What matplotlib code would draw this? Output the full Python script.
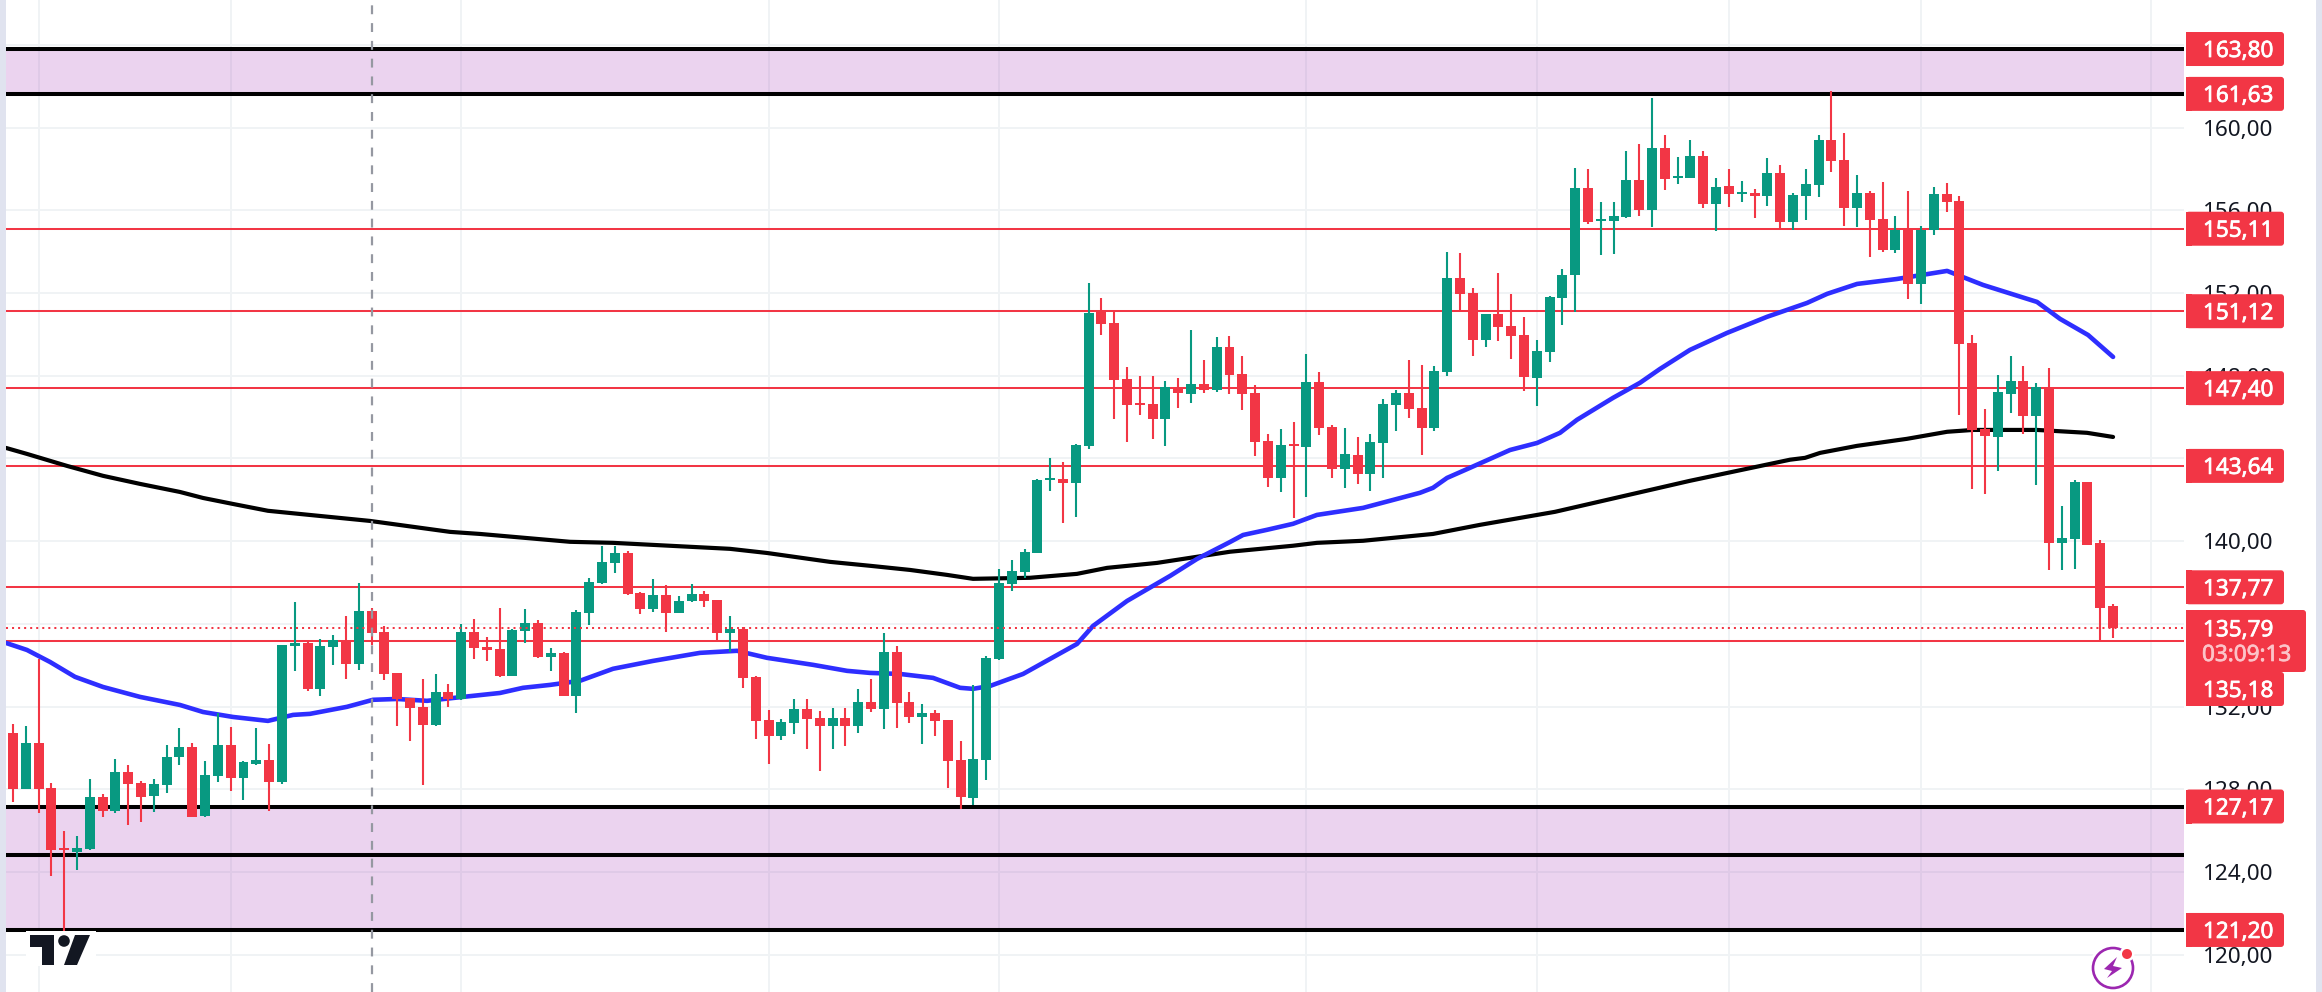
import matplotlib
matplotlib.use('Agg')  # no display in the sandbox
import matplotlib.pyplot as plt
import matplotlib.patheffects as path_effects
from matplotlib.patches import Rectangle, FancyBboxPatch, Polygon, Circle
from matplotlib.transforms import IdentityTransform

plt.rcParams['font.family'] = ['Noto Sans', 'DejaVu Sans']

# Candles
opens = [130.73, 128.04, 130.25, 128.07, 125.15, 124.98, 125.12, 127.64, 126.96, 128.84, 128.31, 127.68, 128.22, 129.57, 130.05,
         126.72, 128.65, 130.15, 128.55, 129.23, 129.42, 128.36, 134.94, 135.08, 132.86, 134.89, 135.23, 134.07, 136.63, 135.61,
         133.63, 132.42, 131.99, 131.12, 132.71, 132.37, 135.61, 134.89, 134.79, 133.49, 135.66, 136.05, 134.41, 134.60, 132.52,
         136.53, 137.98, 138.95, 139.44, 137.50, 136.73, 137.40, 136.53, 137.11, 137.45, 137.16, 135.57, 135.76, 133.44, 131.36,
         130.59, 131.21, 131.89, 131.46, 131.07, 131.46, 131.07, 132.23, 131.89, 134.65, 132.23, 131.50, 131.70, 131.36, 129.42,
         127.59, 129.42, 134.31, 137.94, 138.52, 139.43, 142.96, 143.01, 142.82, 144.61, 151.10, 150.55, 147.85, 146.69, 146.64,
         145.91, 147.41, 147.12, 147.60, 147.31, 149.39, 148.09, 147.17, 144.85, 143.06, 144.72, 144.56, 147.70, 145.52, 143.49,
         144.17, 143.25, 144.75, 146.59, 147.17, 146.44, 145.48, 148.18, 152.73, 152.01, 149.73, 150.99, 150.41, 149.97, 147.89,
         149.15, 151.76, 152.87, 157.08, 155.49, 155.49, 155.68, 157.47, 156.02, 159.02, 157.57, 157.57, 158.63, 156.31, 157.18,
         156.79, 156.84, 156.69, 157.81, 155.44, 156.69, 157.23, 159.40, 158.44, 156.11, 156.84, 155.58, 154.08, 155.10, 152.44,
         155.05, 156.79, 156.46, 149.59, 145.43, 145.05, 147.12, 147.75, 146.06, 147.46, 139.92, 140.11, 142.87, 139.92, 136.87]
highs = [131.15, 131.07, 134.29, 128.30, 125.99, 125.75, 128.51, 127.76, 129.47, 129.18, 128.41, 128.51, 130.15, 130.97, 130.25,
         129.38, 131.70, 131.02, 129.38, 130.97, 130.20, 134.99, 137.07, 135.13, 135.28, 135.47, 136.39, 137.98, 136.78, 135.90,
         133.63, 132.42, 133.34, 133.58, 133.10, 136.00, 136.24, 135.37, 136.78, 135.76, 136.73, 136.20, 134.84, 134.65, 136.68,
         138.23, 139.77, 139.77, 139.53, 137.55, 138.18, 137.89, 137.36, 137.94, 137.60, 137.16, 136.39, 135.86, 133.49, 131.84,
         131.41, 132.37, 132.37, 131.79, 131.94, 131.94, 132.86, 133.34, 135.57, 134.94, 132.71, 132.13, 131.84, 131.36, 130.34,
         133.05, 134.45, 138.66, 139.10, 139.63, 143.01, 144.03, 143.83, 144.70, 152.49, 151.76, 151.10, 148.43, 147.99, 147.99,
         147.75, 147.89, 150.22, 148.77, 149.88, 149.93, 148.96, 147.56, 145.19, 145.43, 145.77, 149.06, 148.18, 145.62, 145.48,
         145.04, 145.19, 146.88, 147.31, 148.77, 148.52, 148.47, 153.99, 153.94, 152.25, 150.99, 152.97, 151.96, 150.84, 149.73,
         151.86, 153.16, 158.05, 158.00, 156.40, 156.40, 158.87, 159.21, 161.43, 159.64, 158.58, 159.40, 158.87, 157.57, 158.00,
         157.42, 157.03, 158.53, 158.19, 156.84, 158.00, 159.64, 161.77, 159.74, 157.71, 156.94, 157.37, 155.73, 156.94, 155.24,
         157.13, 157.32, 156.70, 149.98, 146.40, 148.04, 148.96, 148.48, 147.66, 148.38, 141.71, 142.97, 142.87, 140.06, 136.97]
lows = [127.41, 128.04, 126.88, 123.81, 121.16, 124.10, 125.07, 126.67, 126.86, 126.28, 126.43, 126.91, 127.83, 129.18, 126.64,
        126.64, 128.36, 127.93, 127.49, 129.18, 126.96, 128.26, 133.73, 132.76, 132.52, 134.02, 133.34, 133.78, 134.99, 133.29,
        131.07, 130.34, 128.22, 131.07, 131.99, 132.34, 134.31, 134.21, 133.44, 133.49, 135.08, 134.36, 133.73, 132.52, 131.70,
        135.95, 137.94, 138.47, 137.40, 136.49, 136.58, 135.61, 136.53, 137.07, 136.82, 135.18, 134.65, 132.91, 130.44, 129.23,
        130.39, 130.68, 129.96, 128.89, 129.96, 130.10, 130.73, 131.75, 130.92, 130.97, 131.21, 130.20, 130.59, 128.07, 127.04,
        127.25, 128.46, 134.26, 137.60, 138.22, 139.43, 142.43, 140.88, 141.17, 144.46, 149.97, 145.91, 144.80, 146.11, 144.94,
        144.61, 146.44, 146.69, 147.17, 147.22, 147.12, 146.35, 144.12, 142.62, 142.38, 141.12, 142.14, 145.14, 143.06, 142.57,
        142.77, 142.43, 143.06, 145.33, 145.96, 144.17, 145.33, 147.99, 151.10, 148.96, 149.39, 149.68, 148.81, 147.26, 146.54,
        148.67, 150.46, 151.09, 155.34, 153.84, 153.89, 155.63, 155.73, 155.20, 156.99, 157.28, 157.57, 156.11, 155.00, 156.16,
        156.40, 155.63, 156.21, 155.10, 155.05, 155.53, 156.65, 157.86, 155.24, 155.20, 153.74, 153.99, 153.94, 151.71, 151.47,
        154.81, 155.92, 146.11, 142.53, 142.29, 143.40, 146.21, 145.19, 142.72, 138.61, 138.61, 138.66, 139.82, 135.18, 135.33]
closes = [128.04, 130.25, 128.04, 125.07, 125.09, 125.17, 127.64, 126.96, 128.84, 128.26, 127.64, 128.26, 129.57, 130.05, 126.67,
          128.70, 130.15, 128.55, 129.33, 129.42, 128.36, 134.99, 135.08, 132.86, 134.94, 135.23, 134.07, 136.63, 135.57, 133.58,
          132.37, 131.94, 131.12, 132.71, 132.37, 135.61, 134.84, 134.76, 133.49, 135.71, 136.05, 134.41, 134.60, 132.52, 136.58,
          138.03, 139.00, 139.44, 137.45, 136.73, 137.40, 136.53, 137.11, 137.45, 137.11, 135.57, 135.76, 133.39, 131.31, 130.59,
          131.26, 131.89, 131.41, 131.07, 131.46, 131.07, 132.23, 131.89, 134.65, 132.18, 131.50, 131.70, 131.31, 129.38, 127.64,
          129.47, 134.36, 137.98, 138.56, 139.48, 142.96, 143.06, 142.82, 144.65, 151.05, 150.51, 147.80, 146.59, 146.59, 145.91,
          147.46, 147.17, 147.60, 147.31, 149.39, 148.04, 147.12, 144.80, 143.06, 144.65, 144.62, 147.70, 145.48, 143.49, 144.22,
          143.25, 144.80, 146.64, 147.17, 146.40, 145.48, 148.23, 152.73, 151.96, 149.73, 150.99, 150.36, 149.92, 147.94, 149.20,
          151.81, 152.87, 157.08, 155.44, 155.58, 155.73, 157.47, 156.02, 159.02, 157.52, 157.66, 158.63, 156.31, 157.13, 156.79,
          156.89, 156.71, 157.81, 155.44, 156.74, 157.28, 159.40, 158.39, 156.11, 156.84, 155.53, 154.08, 155.05, 152.44, 155.05,
          156.79, 156.40, 149.54, 145.38, 145.09, 147.22, 147.75, 146.06, 147.46, 139.92, 140.16, 142.87, 139.82, 136.78, 135.81]

# Moving averages, sampled along the drawn curves
slow_ma_x = [-0.55, 1.09, 4.22, 7.03, 9.92, 13.04, 14.84, 17.18, 19.91, 23.97, 27.88, 34.13, 36.47, 43.5, 46.86, 55.99, 58.88, 63.8,
             66.93, 70.05, 72.94, 74.97, 79.42, 83.09, 85.44, 89.34, 95.04, 99.96, 101.83, 105.43, 110.89, 114.56, 120.42, 130.96,
             138.77, 139.95, 141.12, 144.01, 147.91, 151.04, 153.07, 158.06, 161.97, 164.0]
slow_ma = [144.51, 144.22, 143.64, 143.16, 142.77, 142.38, 142.09, 141.80, 141.47, 141.22, 140.98, 140.45, 140.35, 139.97, 139.92,
           139.63, 139.43, 139.00, 138.81, 138.61, 138.37, 138.18, 138.23, 138.42, 138.71, 138.95, 139.49, 139.78, 139.92, 140.02,
           140.35, 140.79, 141.42, 142.92, 143.94, 144.03, 144.27, 144.61, 144.95, 145.29, 145.38, 145.38, 145.24, 145.04]
fast_ma_x = [-0.55, 1.09, 2.89, 4.84, 7.03, 9.92, 13.04, 14.84, 17.18, 19.91, 21.87, 23.19, 26.08, 28.11, 29.99, 32.33, 35.14, 38.03,
             39.83, 41.94, 44.28, 46.86, 49.98, 53.65, 56.54, 58.88, 62.48, 65.13, 66.93, 69.27, 71.85, 73.96, 74.97, 76.3, 78.88,
             83.09, 84.34, 87.0, 90.36, 92.46, 95.04, 96.06, 97.93, 99.96, 101.83, 105.43, 109.88, 110.89, 111.99, 113.79, 116.91,
             119.02, 120.81, 122.14, 124.95, 127.06, 128.62, 130.96, 133.85, 136.98, 140.1, 141.67, 144.01, 147.13, 151.04, 153.85,
             158.06, 159.86, 162.05, 164.0]
fast_ma = [135.08, 134.74, 134.16, 133.44, 132.95, 132.47, 132.08, 131.74, 131.50, 131.31, 131.60, 131.65, 131.99, 132.33, 132.37,
           132.28, 132.47, 132.66, 132.91, 133.05, 133.25, 133.83, 134.21, 134.60, 134.70, 134.36, 134.02, 133.73, 133.63, 133.58,
           133.39, 132.91, 132.86, 133.00, 133.58, 135.03, 135.90, 137.11, 138.32, 139.14, 139.96, 140.30, 140.55, 140.84, 141.27,
           141.61, 142.34, 142.58, 143.06, 143.55, 144.41, 144.75, 145.24, 145.87, 146.93, 147.66, 148.33, 149.25, 150.07, 150.85,
           151.52, 151.96, 152.44, 152.68, 153.07, 152.39, 151.57, 150.75, 149.97, 148.91]

# Price levels
zones = [(161.63, 163.80), (121.20, 127.17)]
black_levels = [163.80, 161.63, 127.17, 124.83, 121.20]
red_levels = [155.11, 151.12, 147.40, 143.64, 137.77, 135.18]
label_levels = [163.80, 161.63, 155.11, 151.12, 147.40, 143.64, 137.77, 127.17, 121.20]
last_price = 135.79
countdown = "03:09:13"
y_ticks = [120, 124, 128, 132, 136, 140, 144, 148, 152, 156, 160, 164]
time_grid = [2, 17, 35, 59, 77, 101, 119, 134, 149, 167]
crosshair_bar = 28

RED = "#f23645"
GREEN = "#089981"
PURPLE = "#9c27b0"
W, H = 2322, 992


def px(x, y):
    # picture pixels, y counted from the top
    return (x, H - y)


def comma(value):
    return f"{value:.2f}".replace(".", ",")


fig = plt.figure(figsize=(W / 100, H / 100), dpi=100, facecolor="white")
ax = fig.add_axes([6 / W, 0, (2184 - 6) / W, 1])
ax.set_xlim(-0.547, 169.54)
ax.set_ylim(118.20, 166.17)
for side in ax.spines.values():
    side.set_visible(False)

ax.set_xticks(time_grid)
ax.set_yticks(y_ticks)
ax.set_yticklabels([comma(v) for v in y_ticks], fontsize=16.2, color="#131722")
ax.yaxis.tick_right()
ax.tick_params(axis="y", length=0, pad=13.7)
ax.tick_params(axis="x", length=0, labelbottom=False)
ax.grid(color="#f0f3f5", linewidth=1.4, zorder=0)
ax.set_axisbelow(True)

# Zones and levels
for bottom, top in zones:
    ax.axhspan(bottom, top, color=PURPLE, alpha=0.2, linewidth=0, zorder=1)
for level in black_levels:
    ax.axhline(level, color="black", linewidth=2.9, zorder=2)
for level in red_levels:
    ax.axhline(level, color=RED, linewidth=1.45, zorder=2)

# Moving averages
ax.plot(slow_ma_x, slow_ma, color="black", linewidth=3.0, zorder=3, solid_capstyle="round")
ax.plot(fast_ma_x, fast_ma, color="#2e2eff", linewidth=3.3, zorder=3, solid_capstyle="round")

# Candles
bars = list(range(len(opens)))
colors = [GREEN if c > o else RED for o, c in zip(opens, closes)]
ax.vlines(bars, lows, highs, colors=colors, linewidth=1.5, zorder=5)
ax.bar(bars, [abs(c - o) for o, c in zip(opens, closes)], bottom=[min(o, c) for o, c in zip(opens, closes)],
       width=0.78, color=colors, linewidth=0, zorder=5)

# Last price and crosshair
ax.axhline(last_price, color=RED, linewidth=1.45, linestyle=(0, (1, 2)), zorder=6)
ax.axvline(crosshair_bar, color="#9598a1", linewidth=1.6, linestyle=(0, (4, 4)), zorder=7)


def price_y(price):
    return ax.transData.transform((0, price))[1]


def add_box(x0, x1, y0, y1):
    # square on the axis side, small rounding on the right
    fig.add_artist(FancyBboxPatch((x0, y0), x1 - x0, y1 - y0, boxstyle="round,pad=0,rounding_size=3",
                                  facecolor=RED, edgecolor="none", transform=IdentityTransform()))
    fig.add_artist(Rectangle((x0, y0), 6, y1 - y0, facecolor=RED, edgecolor="none", transform=IdentityTransform()))


def add_text(x, y, text, color="white"):
    label = fig.text(x / W, y / H, text, color=color, fontsize=16.2, ha="left", va="center_baseline")
    label.set_path_effects([path_effects.withStroke(linewidth=0.5, foreground=color)])


# Axis labels on red boxes
for level in label_levels:
    y = price_y(level)
    add_box(2186, 2284, y - 17, y + 17)
    add_text(2203, y, comma(level))

y = price_y(last_price)
add_box(2186, 2306, H - 672, H - 610)
add_text(2203, y, comma(last_price))
add_text(2202, H - 653, countdown, color="#fcc3c8")
add_box(2186, 2284, H - 706, H - 672)
add_text(2203, H - 689, comma(135.18))

# TradingView logo
logo_ink = "#131722"
fig.add_artist(Rectangle(px(26, 966), 70, 35, facecolor="white", edgecolor="none", transform=IdentityTransform()))
fig.add_artist(Polygon([px(30, 935), px(54, 935), px(54, 965), px(42, 965), px(42, 947), px(30, 947)],
                       facecolor=logo_ink, edgecolor="none", transform=IdentityTransform()))
fig.add_artist(Circle(px(64, 941), 5.8, facecolor=logo_ink, edgecolor="none", transform=IdentityTransform()))
fig.add_artist(Polygon([px(75, 935), px(90, 935), px(77, 965), px(64, 965)],
                       facecolor=logo_ink, edgecolor="none", transform=IdentityTransform()))

# Bolt icon, bottom right
fig.add_artist(Circle(px(2113, 968), 24, facecolor="white", edgecolor="none", transform=IdentityTransform()))
fig.add_artist(Circle(px(2113, 968), 20, facecolor="none", edgecolor=PURPLE, linewidth=1.9, transform=IdentityTransform()))
fig.add_artist(Polygon([px(2104, 969), px(2117, 957), px(2113, 966), px(2122, 968), px(2107, 978), px(2112, 971)],
                       facecolor=PURPLE, edgecolor="none", transform=IdentityTransform()))
fig.add_artist(Circle(px(2127, 954), 7.5, facecolor="white", edgecolor="none", transform=IdentityTransform()))
fig.add_artist(Circle(px(2127, 954), 5, facecolor=RED, edgecolor="none", transform=IdentityTransform()))

# Pale strips at both edges
fig.add_artist(Rectangle((0, 0), 6, H, facecolor="#e0e3ef", edgecolor="none", transform=IdentityTransform()))
fig.add_artist(Rectangle((2316, 0), 6, H, facecolor="#e0e3ef", edgecolor="none", transform=IdentityTransform()))

fig.savefig("out.png", dpi=100)
plt.close(fig)
